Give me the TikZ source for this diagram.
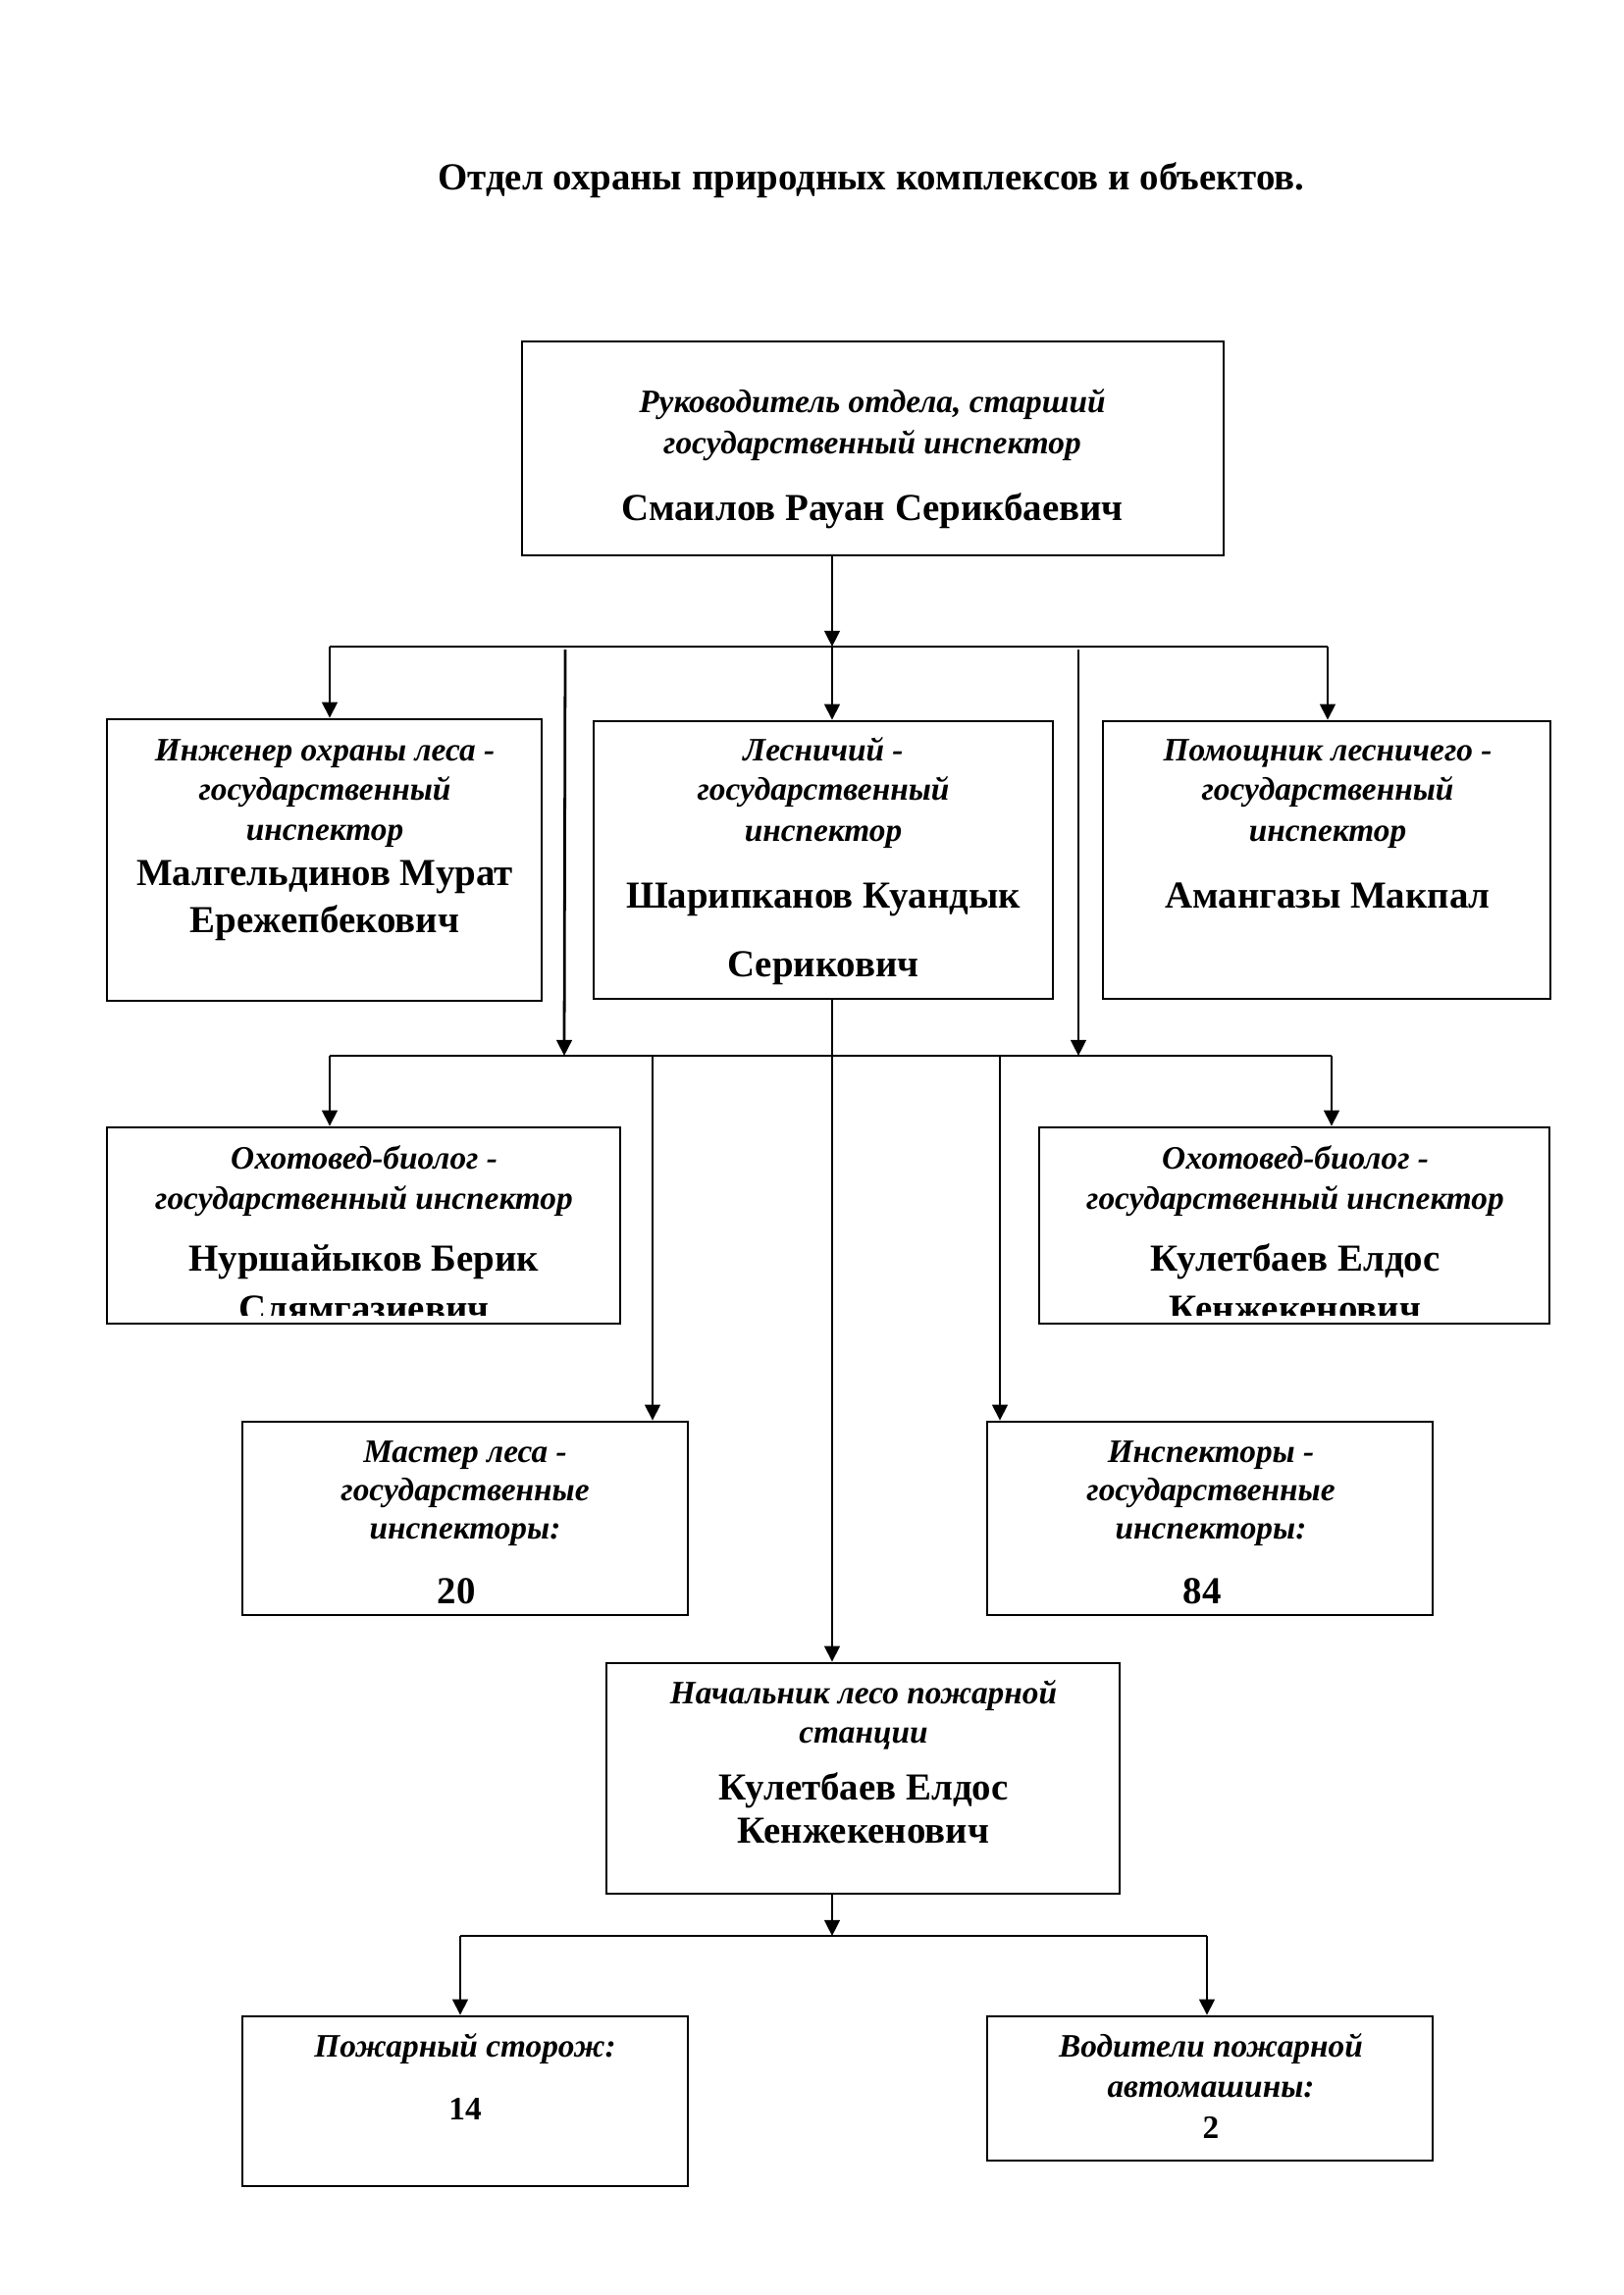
\documentclass[tikz,border=0pt]{standalone}
\usepackage{fontspec}
\setmainfont{Liberation Serif}
\usetikzlibrary{arrows.meta,fit}
\begin{document}
\begin{tikzpicture}[x=0.36pt,y=-0.36pt,
  box/.style={draw=black,line width=0.95pt,inner sep=0pt,fill=none},
  it/.style={font=\bfseries\itshape\fontsize{12}{14}\selectfont,anchor=base,inner sep=0pt},
  nm/.style={font=\bfseries\fontsize{14}{16}\selectfont,anchor=base,inner sep=0pt},
  num/.style={font=\bfseries\fontsize{12}{14}\selectfont,anchor=base,inner sep=0pt},
  ttl/.style={font=\bfseries\fontsize{14}{16}\selectfont,anchor=base,inner sep=0pt},
  arr/.style={line width=1pt,-{Triangle[length=5.8pt,width=5.6pt]}},
  bus/.style={line width=0.8pt}]
\useasboundingbox (0,0) rectangle (1654,2339);
\fill[white] (0,0) rectangle (1654,2339);

% title
\node[ttl] (title) at (888,193) {Отдел охраны природных комплексов и объектов.};

% boxes
\node[box,fit={(532,348) (1247,566)}] (top) {};
\node[box,fit={(109,733) (552,1020)}] (b1) {};
\node[box,fit={(605,735) (1073,1018)}] (b2) {};
\node[box,fit={(1124,735) (1580,1018)}] (b3) {};
\node[box,fit={(109,1149) (632,1349)}] (h1) {};
\node[box,fit={(1059,1149) (1579,1349)}] (h2) {};
\node[box,fit={(247,1449) (701,1646)}] (m1) {};
\node[box,fit={(1006,1449) (1460,1646)}] (m2) {};
\node[box,fit={(618,1695) (1141,1930)}] (nach) {};
\node[box,fit={(247,2055) (701,2228)}] (p1) {};
\node[box,fit={(1006,2055) (1460,2202)}] (p2) {};

% texts: top
\node[it] (t01) at (889,420) {Руководитель отдела, старший};
\node[it] (t02) at (889,462) {государственный инспектор};
\node[nm] (t03) at (889,530) {Смаилов Рауан Серикбаевич};
% box1
\node[it] (t11) at (331,775) {Инженер охраны леса -};
\node[it] (t12) at (331,815) {государственный};
\node[it] (t13) at (331,856) {инспектор};
\node[nm] (t14) at (331,902) {Малгельдинов Мурат};
\node[nm] (t15) at (331,950) {Ережепбекович};
% box2
\node[it] (t21) at (839,775) {Лесничий -};
\node[it] (t22) at (839,815) {государственный};
\node[it] (t23) at (839,857) {инспектор};
\node[nm] (t24) at (839,925) {Шарипканов Куандык};
\node[nm] (t25) at (839,995) {Серикович};
% box3
\node[it] (t31) at (1353,775) {Помощник лесничего -};
\node[it] (t32) at (1353,815) {государственный};
\node[it] (t33) at (1353,857) {инспектор};
\node[nm] (t34) at (1353,925) {Амангазы Макпал};
% hunters (clipped)
\begin{scope}
\clip (109,1149) rectangle (632,1340);
\node[it] (t41) at (371,1191) {Охотовед-биолог -};
\node[it] (t42) at (371,1232) {государственный инспектор};
\node[nm] (t43) at (371,1295) {Нуршайыков Берик};
\node[nm] (t44) at (371,1346) {Слямгазиевич};
\end{scope}
\begin{scope}
\clip (1059,1149) rectangle (1579,1340);
\node[it] (t51) at (1320,1191) {Охотовед-биолог -};
\node[it] (t52) at (1320,1232) {государственный инспектор};
\node[nm] (t53) at (1320,1295) {Кулетбаев Елдос};
\node[nm] (t54) at (1320,1346) {Кенжекенович};
\end{scope}
% masters
\node[it] (t61) at (474,1490) {Мастер леса -};
\node[it] (t62) at (474,1529) {государственные};
\node[it] (t63) at (474,1568) {инспекторы:};
\node[nm] (t64) at (465,1634) {20};
\node[it] (t71) at (1234,1490) {Инспекторы -};
\node[it] (t72) at (1234,1529) {государственные};
\node[it] (t73) at (1234,1568) {инспекторы:};
\node[nm] (t74) at (1225,1634) {84};
% nach
\node[it] (t81) at (880,1736) {Начальник лесо пожарной};
\node[it] (t82) at (880,1776) {станции};
\node[nm] (t83) at (880,1834) {Кулетбаев Елдос};
\node[nm] (t84) at (880,1878) {Кенжекенович};
% bottom
\node[it] (t91) at (474,2096) {Пожарный сторож:};
\node[num] (t92) at (474,2160) {14};
\node[it] (t93) at (1234,2096) {Водители пожарной};
\node[it] (t94) at (1234,2137) {автомашины:};
\node[num] (t95) at (1234,2179) {2};

% bus coordinates
\coordinate (b1L) at (336,659);
\coordinate (b1C) at (848,659);
\coordinate (b1R) at (1353,659);
\coordinate (s1) at (576,662);
\coordinate (s2) at (1099,662);
\coordinate (b2L) at (336,1076);
\coordinate (b2R) at (1357,1076);
\coordinate (b2a) at (575,1076);
\coordinate (b2b) at (1099,1076);
\coordinate (b2m1) at (665,1076);
\coordinate (b2m2) at (1019,1076);
\coordinate (b3L) at (469,1973);
\coordinate (b3C) at (848,1973);
\coordinate (b3R) at (1230,1973);

% level 1
\draw[bus] (b1L) -- (b1R);
\draw[arr] (top.south -| b1C) -- (b1C);
\draw[arr] (b1L) -- (b1L |- b1.north);
\draw[arr] (b1C) -- (b1C |- b2.north);
\draw[arr] (b1R) -- (b1R |- b3.north);
\draw[arr] (s1) -- (b2a);
\draw[arr] (s2) -- (b2b);
% level 2
\draw[bus] (b2L) -- (b2R);
\draw[arr] (b2.south -| b1C) -- (b1C |- nach.north);
\draw[arr] (b2L) -- (b2L |- h1.north);
\draw[arr] (b2R) -- (b2R |- h2.north);
\draw[arr] (b2m1) -- (b2m1 |- m1.north);
\draw[arr] (b2m2) -- (b2m2 |- m2.north);
% level 3
\draw[bus] (b3L) -- (b3R);
\draw[arr] (nach.south -| b3C) -- (b3C);
\draw[arr] (b3L) -- (b3L |- p1.north);
\draw[arr] (b3R) -- (b3R |- p2.north);
\end{tikzpicture}
\end{document}
